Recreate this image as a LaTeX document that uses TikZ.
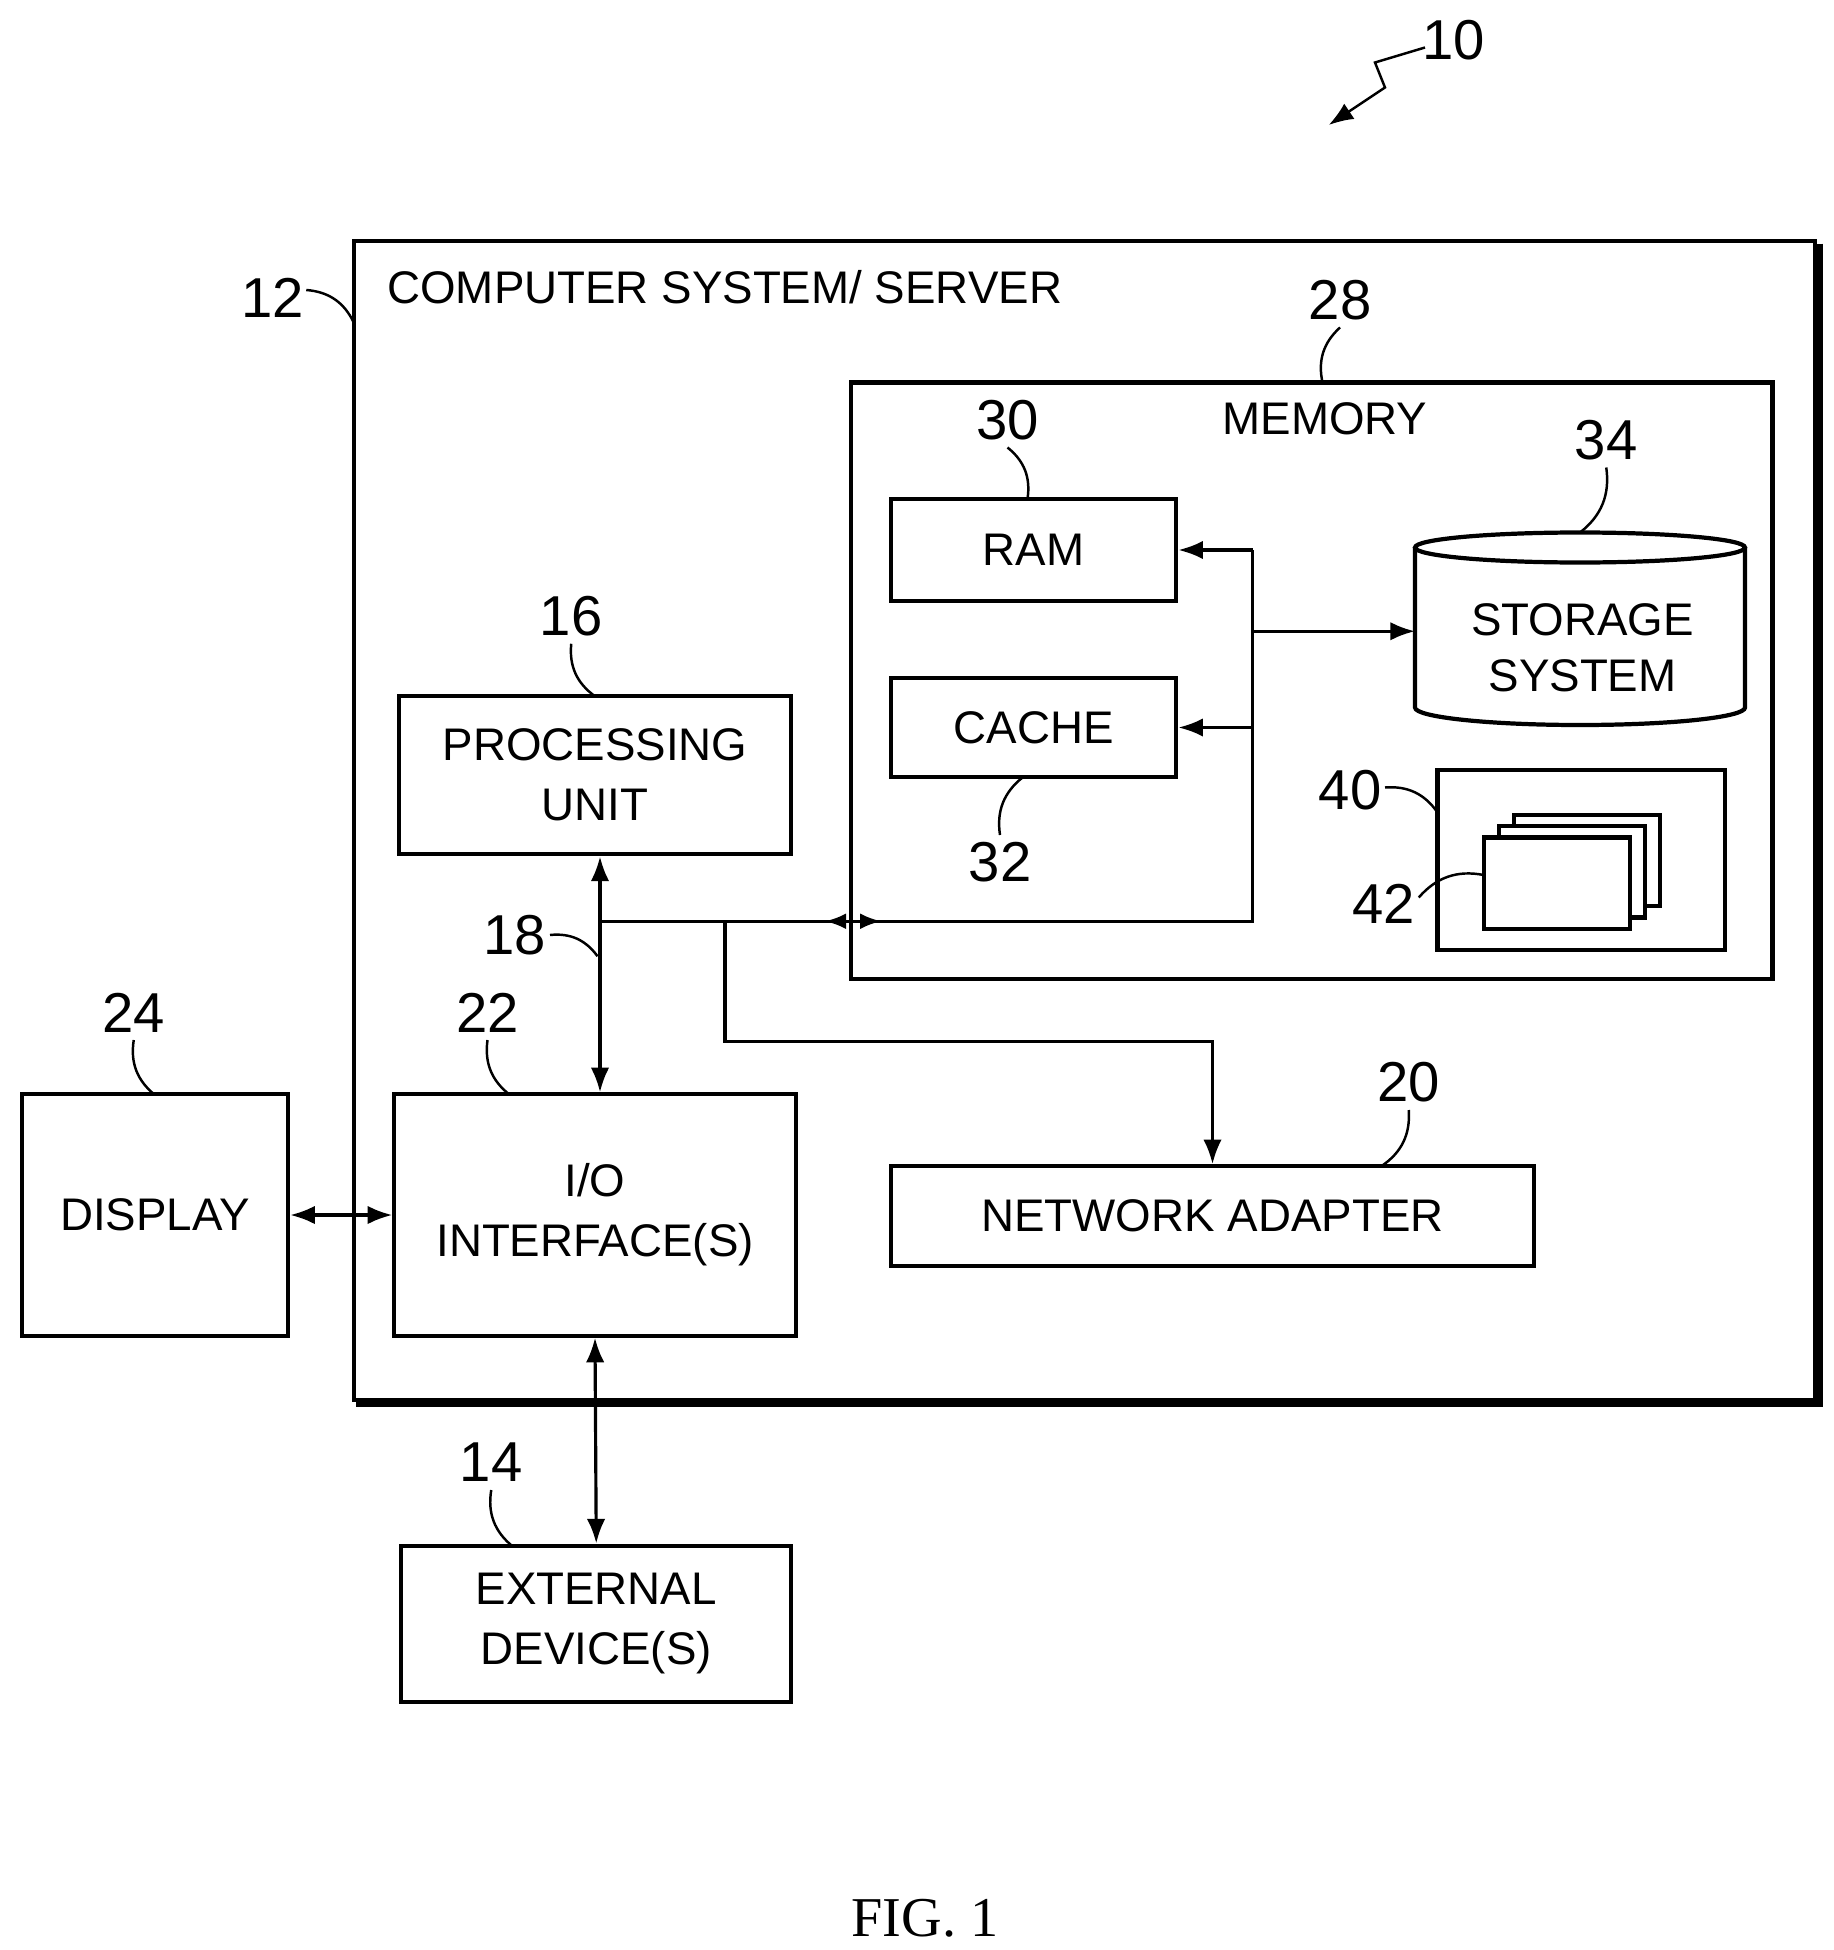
\documentclass[tikz,border=0pt]{standalone}
\usepackage{fontspec}
\setmainfont{Liberation Sans}
\newfontfamily\figfont{Liberation Serif}
\usetikzlibrary{arrows.meta}
\def\u{0.0125cm}
\tikzset{
  box/.style={draw, line width=1.2pt, align=center, inner sep=0pt, font=\fontsize{13}{17}\selectfont},
  num/.style={font=\fontsize{16}{18}\selectfont},
  bus/.style={line width=0.9pt, {Latex[length=7pt]}-{Latex[length=7pt]}},
  lead/.style={line width=0.7pt}
}
\begin{document}
\begin{tikzpicture}[x=\u, y=-\u]
\useasboundingbox (0,0) rectangle (1467,1560);
% outer system box
\draw[line width=1pt] (283,193) rectangle (1452,1120);
\draw[line width=2.5pt] (1455,195) -- (1455,1122) -- (285,1122);
\node[font=\fontsize{13}{17}\selectfont, anchor=west] (title) at (300,230) {COMPUTER SYSTEM/ SERVER};
% memory
\draw[line width=1.2pt] (681,306) rectangle (1418,783);
\node[font=\fontsize{13}{17}\selectfont] (memtext) at (1060,335) {MEMORY};
\node[box, minimum width=228*\u, minimum height=81*\u] (ram) at (827,440) {RAM};
\node[box, minimum width=228*\u, minimum height=79*\u] (cache) at (827,582) {CACHE};
% storage cylinder
\draw[line width=1.2pt] (1132,438) -- (1132,566) arc[start angle=180, end angle=0, x radius=132, y radius=14] -- (1396,438);
\draw[line width=1.2pt] (1264,438) ellipse[x radius=132, y radius=12];
\node[font=\fontsize{13}{16}\selectfont, align=center] (storage) at (1266,518) {STORAGE\\SYSTEM};
\coordinate (stor) at (1132,505);
% program modules
\draw[line width=1.2pt] (1150,616) rectangle (1380,760);
\foreach \d in {2,1,0}
  \filldraw[fill=white, line width=1.2pt] (1187+12*\d,670-9*\d) rectangle (1304+12*\d,743-9*\d);
% other units
\node[box, minimum width=313*\u, minimum height=127*\u] (pu) at (476,620) {PROCESSING\\UNIT};
\node[box, minimum width=321*\u, minimum height=193*\u] (io) at (476,972) {I/O\\INTERFACE(S)};
\node[box, minimum width=213*\u, minimum height=193*\u] (disp) at (124,972) {DISPLAY};
\node[box, minimum width=514*\u, minimum height=80*\u] (net) at (970,973) {NETWORK ADAPTER};
\node[box, minimum width=312*\u, minimum height=125*\u] (ext) at (477,1299) {EXTERNAL\\DEVICE(S)};
% bus
\coordinate (b1) at (480,737);
\coordinate (b2) at (1002,737);
\coordinate (b3) at (580,737);
\draw[bus] (pu.south -| b1) -- (io.north -| b1);
\draw[line width=0.9pt] (b1) -- (b2) -- (1002,440);
\draw[line width=0.9pt, -{Latex[length=7pt]}] (1002,440) -- (ram.east);
\draw[line width=0.9pt, -{Latex[length=7pt]}] (1002,582) -- (cache.east);
\draw[line width=0.9pt, -{Latex[length=7pt]}] (1002,505) -- (stor);
\draw[line width=0.9pt, {Latex[length=6pt]}-{Latex[length=6pt]}] (660,737) -- (705,737);
\draw[line width=0.9pt, -{Latex[length=7pt]}] (b3) -- (580,833) -- (970,833) -- (net.north);
\draw[bus] (disp.east) -- (io.west);
\draw[bus] (io.south) -- (ext.north);
% reference numerals
\node[num] (n10) at (1163,32) {10};
\draw[lead, -{Latex[length=7pt]}] (1140,38) -- (1100,50) -- (1108,70) -- (1063,100);
\node[num] (n12) at (218,238) {12};
\draw[lead] (245,232) to[bend left=30] (283,258);
\node[num] (n28) at (1072,240) {28};
\draw[lead] (1072,262) to[bend right=30] (1058,306);
\node[num] (n30) at (806,336) {30};
\draw[lead] (806,358) to[bend left=30] (822,399);
\node[num] (n32) at (800,690) {32};
\draw[lead] (800,668) to[bend left=30] (818,622);
\node[num] (n34) at (1285,352) {34};
\draw[lead] (1285,374) to[bend left=30] (1264,426);
\node[num] (n40) at (1080,632) {40};
\draw[lead] (1108,630) to[bend left=30] (1150,650);
\node[num] (n42) at (1107,723) {42};
\draw[lead] (1135,718) to[bend left=30] (1187,700);
\node[num] (n16) at (457,493) {16};
\draw[lead] (457,515) to[bend right=30] (476,557);
\node[num] (n18) at (412,748) {18};
\draw[lead] (440,748) to[bend left=30] (478,765);
\node[num] (n22) at (390,810) {22};
\draw[lead] (390,832) to[bend right=30] (408,876);
\node[num] (n24) at (107,810) {24};
\draw[lead] (107,832) to[bend right=30] (124,876);
\node[num] (n20) at (1127,866) {20};
\draw[lead] (1127,888) to[bend left=30] (1105,933);
\node[num] (n14) at (393,1170) {14};
\draw[lead] (393,1192) to[bend right=30] (410,1237);
\node[font=\figfont\fontsize{16}{18}\selectfont] (fig) at (740,1535) {FIG. 1};
\end{tikzpicture}
\end{document}
